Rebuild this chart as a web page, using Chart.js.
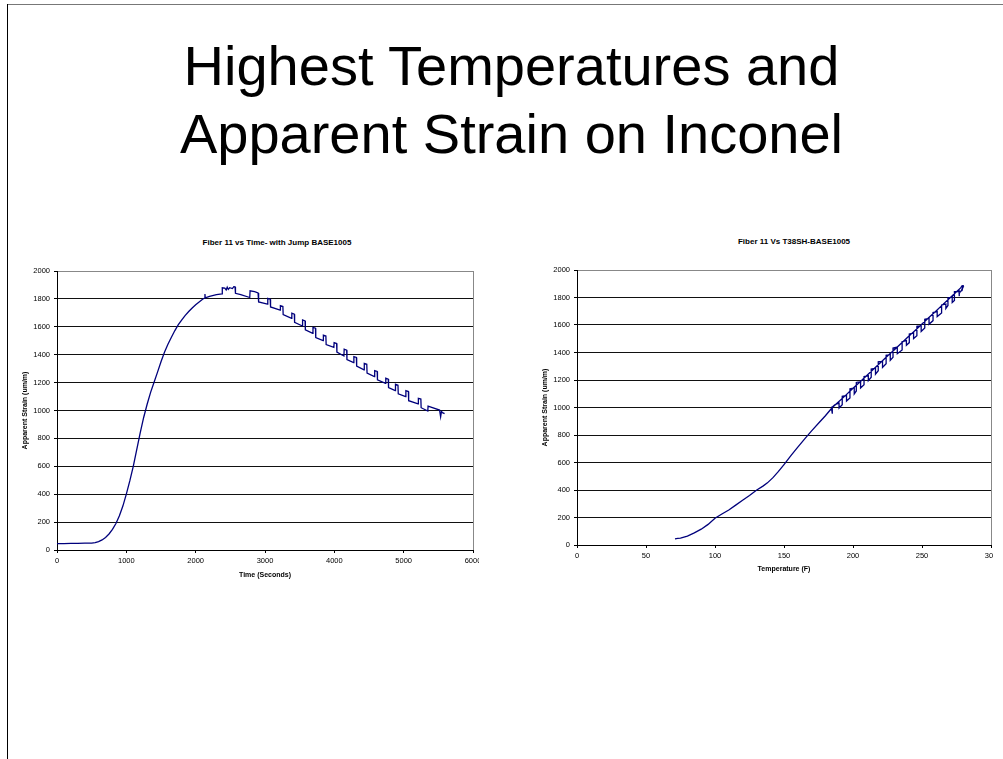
<!DOCTYPE html>
<html>
<head>
<meta charset="utf-8">
<script src="https://cdn.jsdelivr.net/npm/chart.js@4.4.1/dist/chart.umd.min.js"></script>
<style>
  html, body { margin: 0; padding: 0; background: #fff; }
  #slide { position: relative; width: 1003px; height: 759px; overflow: hidden; background: #fff;
           font-family: "Liberation Sans", Arial, sans-serif; }
  #frameTop { position: absolute; left: 7px; top: 4px; width: 996px; height: 1px; background: #777; }
  #frameLeft { position: absolute; left: 7px; top: 4px; width: 1px; height: 755px; background: #000; }
  .headline { position: absolute; left: 10px; width: 1003px; text-align: center; font-size: 56px;
              line-height: 56px; color: #000; white-space: nowrap; }
  .ctitle { position: absolute; font-size: 8px; font-weight: bold; line-height: 10px; color: #000;
            white-space: nowrap; transform: translate(-50%, -50%); }
  canvas { position: absolute; }
</style>
</head>
<body>
<div id="slide">
  <div id="frameTop"></div>
  <div id="frameLeft"></div>
  <div class="headline" style="top:38px">Highest Temperatures and</div>
  <div class="headline" style="top:106px">Apparent Strain on Inconel</div>

  <div class="ctitle" style="left:277px; top:243px">Fiber 11 vs Time- with Jump BASE1005</div>
  <div class="ctitle" style="left:794px; top:242px">Fiber 11 Vs T38SH-BASE1005</div>

  <canvas id="timeChart" width="479" height="360" style="left:0px; top:230px"></canvas>
  <canvas id="tempChart" width="473" height="360" style="left:520px; top:230px"></canvas>
</div>

<script>
// Fiber 11 strain vs time (seconds)
const timeSec = [
  0, 100, 200, 300, 400, 500, 550, 600, 650, 700, 750, 800, 850, 900, 950,
  1000, 1050, 1100, 1150, 1200, 1250, 1300, 1350, 1400, 1450, 1500, 1550, 1600,
  1650, 1700, 1750, 1800, 1850, 1900, 1950, 2000, 2050, 2100, 2130, 2134, 2138,
  2200, 2300, 2380, 2384, 2420, 2440, 2455, 2470, 2490, 2530, 2550, 2568, 2574,
  2650, 2780, 2785, 2850, 2900, 2908, 3035, 3040, 3075, 3080, 3218, 3222, 3258,
  3262, 3383, 3387, 3423, 3427, 3538, 3542, 3578, 3582, 3688, 3692, 3728, 3732,
  3838, 3842, 3878, 3882, 3993, 3997, 4033, 4037, 4138, 4142, 4178, 4182, 4278,
  4282, 4318, 4322, 4428, 4432, 4468, 4472, 4578, 4582, 4618, 4622, 4738, 4742,
  4778, 4782, 4878, 4882, 4918, 4922, 5028, 5032, 5068, 5072, 5208, 5212, 5248,
  5252, 5348, 5352, 5518, 5533, 5545, 5560, 5590
];
const strainByTime = [
  45, 46, 47, 48, 49, 50, 53, 60, 72, 90, 115, 148, 190, 245, 315,
  400, 495, 600, 720, 840, 950, 1045, 1130, 1203, 1275, 1350, 1418, 1475,
  1525, 1573, 1615, 1650, 1682, 1710, 1735, 1758, 1778, 1797, 1806, 1835, 1808,
  1818, 1830, 1836, 1880, 1878, 1864, 1884, 1868, 1880, 1874, 1888, 1886, 1840,
  1830, 1810, 1858, 1852, 1843, 1778, 1763, 1804, 1798, 1742, 1720, 1752, 1746,
  1688, 1661, 1697, 1690, 1632, 1606, 1649, 1642, 1578, 1553, 1596, 1590, 1522,
  1501, 1541, 1535, 1472, 1453, 1487, 1480, 1418, 1391, 1439, 1432, 1365, 1343,
  1386, 1380, 1318, 1291, 1338, 1332, 1268, 1243, 1286, 1280, 1220, 1195, 1231,
  1225, 1165, 1142, 1188, 1182, 1120, 1099, 1142, 1136, 1070, 1047, 1087, 1082,
  1020, 996, 1032, 1003, 955, 992, 985, 978
];

// Fiber 11 strain vs T38SH temperature (F)
const tempF = [
  71, 73, 75, 80, 85, 90, 95, 100, 105, 110, 115, 120, 125, 130, 135, 138, 142,
  146, 150, 155, 160, 165, 170, 175, 180, 185, 190, 195, 200, 205, 210, 215, 220,
  225, 230, 235, 240, 245, 250, 255, 260, 265, 270, 275, 278, 279, 280, 279, 280,
  279, 277, 277,
  276.8, 276.8, 273.5, 273.5, 271.9,
  271.9, 268.8, 268.8, 267.3,
  267.3, 264.2, 264.2, 261.0,
  261.0, 258.0, 258.0, 255.1,
  255.1, 252.0, 252.0, 249.4,
  249.4, 246.3, 246.3, 243.9,
  243.9, 240.8, 240.8, 238.7,
  238.7, 235.6, 235.6, 232.1,
  232.1, 229.0, 229.0, 227.0,
  227.0, 224.0, 224.0, 221.4,
  221.4, 218.3, 218.3, 216.3,
  216.3, 213.2, 213.2, 211.1,
  211.1, 208.0, 208.0, 205.5,
  205.5, 202.4, 202.4, 200.9,
  200.9, 197.8, 197.8, 195.3,
  195.3, 192.2, 192.2, 189.9,
  189.9, 186.8, 185.0, 185.0, 184.5, 184.0
];
const strainByTemp = [
  45, 48, 50, 65, 88, 115, 150, 195, 225, 255, 290, 325, 360, 398, 430, 452, 490,
  535, 585, 650, 712, 772, 830, 885, 940, 1000, 1045, 1092, 1140, 1186, 1233, 1280, 1327,
  1374, 1420, 1467, 1514, 1560, 1607, 1654, 1700, 1748, 1795, 1842, 1870, 1885, 1878, 1862, 1890,
  1850, 1840, 1810,
  1858, 1843, 1843, 1778, 1763,
  1804, 1798, 1742, 1720,
  1752, 1746, 1688, 1661,
  1697, 1690, 1632, 1606,
  1649, 1642, 1578, 1553,
  1596, 1590, 1522, 1501,
  1541, 1535, 1472, 1453,
  1487, 1480, 1418, 1391,
  1439, 1432, 1365, 1343,
  1386, 1380, 1318, 1291,
  1338, 1332, 1268, 1243,
  1286, 1280, 1220, 1195,
  1231, 1225, 1165, 1142,
  1188, 1182, 1120, 1099,
  1142, 1136, 1070, 1047,
  1087, 1082, 1020, 996,
  1032, 1020, 1003, 955, 992, 978
];

const strainTicks = [0, 200, 400, 600, 800, 1000, 1200, 1400, 1600, 1800, 2000];
const lineColor = "#00007c";

Chart.defaults.font.family = '"Liberation Sans", Arial, sans-serif';
Chart.defaults.color = "#000";

const toPoints = (xs, ys) => xs.map((x, i) => ({ x: x, y: ys[i] }));
const plainNum = (v) => String(v); // no thousands separators, like the original

function buildChart(canvasId, xs, ys, xOpts) {
  const ctx = document.getElementById(canvasId);
  return new Chart(ctx, {
    type: "scatter",
    data: {
      datasets: [{
        data: toPoints(xs, ys),
        showLine: true,
        borderColor: lineColor,
        borderWidth: 1.3,
        pointRadius: 0,
        tension: 0,
      }],
    },
    options: {
      responsive: false,
      animation: false,
      layout: { padding: { top: xOpts.padTop, left: 0, right: xOpts.padRight, bottom: 0 } },
      plugins: { legend: { display: false }, tooltip: { enabled: false }, title: { display: false } },
      scales: {
        x: {
          type: "linear",
          min: 0,
          max: xOpts.max,
          afterBuildTicks: (s) => { s.ticks = xOpts.ticks.map(v => ({ value: v })); },
          afterFit: (s) => { s.height = xOpts.axisHeight; s.paddingLeft = 0; s.paddingRight = 0; },
          border: { color: "#000", width: 1 },
          grid: {
            color: (c) => (c.tick && c.tick.value === xOpts.max ? "#888" : "rgba(0,0,0,0)"),
            tickColor: "#000",
            tickLength: 3,
            lineWidth: 1,
          },
          ticks: { font: { size: 7.5, lineHeight: 1.2 }, padding: 3, maxRotation: 0, autoSkip: false,
                   color: "#000", callback: plainNum },
          title: {
            display: true,
            text: xOpts.title,
            font: { size: 7, weight: "bold", lineHeight: 1.2 },
            padding: { top: 0, bottom: xOpts.titlePad },
            color: "#000",
          },
        },
        y: {
          type: "linear",
          min: 0,
          max: 2000,
          afterBuildTicks: (s) => { s.ticks = strainTicks.map(v => ({ value: v })); },
          afterFit: (s) => { s.width = 57; s.paddingTop = 0; s.paddingBottom = 0; },
          border: { color: "#000", width: 1 },
          grid: {
            color: (c) => (c.tick && c.tick.value === 2000 ? "#888" : "#111"),
            tickColor: "#000",
            tickLength: 3,
            lineWidth: 1,
          },
          ticks: { font: { size: 7.5, lineHeight: 1.2 }, padding: 4, autoSkip: false,
                   color: "#000", callback: plainNum },
          title: {
            display: true,
            text: "Apparent Strain (um/m)",
            font: { size: 7, weight: "bold", lineHeight: 1.2 },
            padding: { top: 20.8, bottom: 0 },
            color: "#000",
          },
        },
      },
    },
  });
}

buildChart("timeChart", timeSec, strainByTime, {
  max: 6000,
  ticks: [0, 1000, 2000, 3000, 4000, 5000, 6000],
  title: "Time (Seconds)",
  padTop: 41,
  padRight: 6,
  axisHeight: 40,
  titlePad: 10.8,
});

buildChart("tempChart", tempF, strainByTemp, {
  max: 300,
  ticks: [0, 50, 100, 150, 200, 250, 300],
  title: "Temperature (F)",
  padTop: 40,
  padRight: 2,
  axisHeight: 45,
  titlePad: 16.8,
});
</script>
</body>
</html>
